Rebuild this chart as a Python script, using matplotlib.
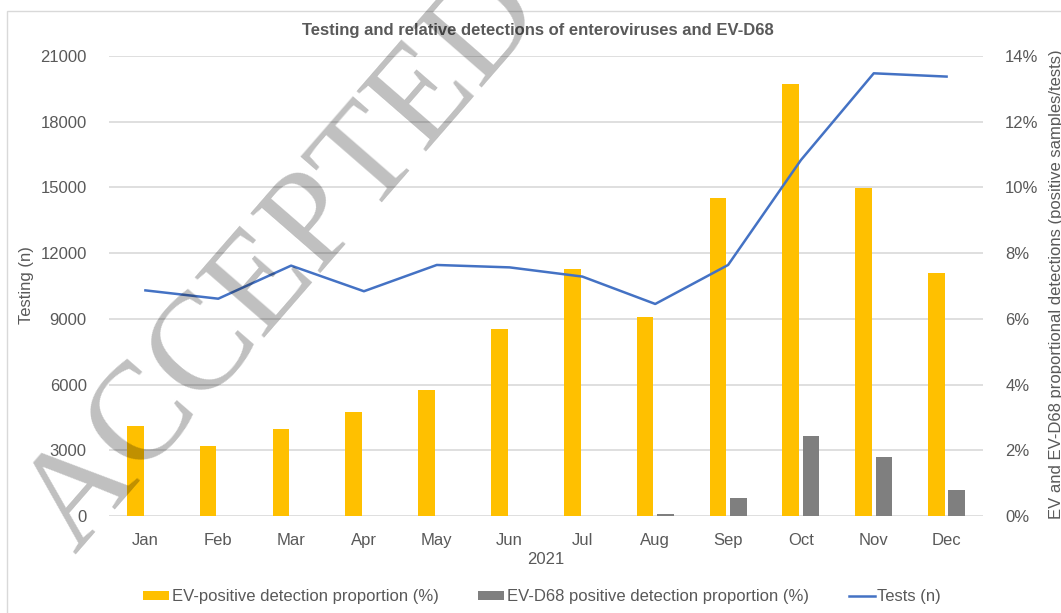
import matplotlib.pyplot as plt
import numpy as np
from matplotlib.patches import Rectangle
from matplotlib.ticker import FuncFormatter

plt.rcParams['font.family'] = ['Liberation Sans', 'DejaVu Sans']

months = ["Jan", "Feb", "Mar", "Apr", "May", "Jun", "Jul", "Aug", "Sep", "Oct", "Nov", "Dec"]
ev_positive = [2.74, 2.14, 2.65, 3.17, 3.83, 5.69, 7.52, 6.07, 9.69, 13.16, 9.97, 7.40]
ev_d68 = [0, 0, 0, 0, 0, 0, 0, 0.05, 0.56, 2.43, 1.80, 0.79]
tests = [10300, 9920, 11430, 10260, 11460, 11350, 10930, 9680, 11460, 16250, 20210, 20060]

txt = "#595959"
grid = "#D9D9D9"

fig = plt.figure(figsize=(10.61, 6.13), dpi=100)
ax = fig.add_axes([109 / 1061, 1 - 516 / 613, 874 / 1061, 460 / 613])
ax2 = ax.twinx()

# bars on the percentage axis (drawn below the line)
x = np.arange(len(months))
w = 0.23
b1 = ax.bar(x - 0.14, ev_positive, w, color="#FFC000", label="EV-positive detection proportion (%)")
b2 = ax.bar(x + 0.14, ev_d68, w, color="#7F7F7F", label="EV-D68 positive detection proportion (%)")
ax.set_ylim(0, 14)
ax.set_xlim(-0.5, 11.5)
ax.set_yticks(range(0, 15, 2))
ax.yaxis.set_major_formatter(FuncFormatter(lambda v, p: f"{v:.0f}%"))
ax.set_axisbelow(True)
ax.grid(axis="y", color=grid, linewidth=1.2)
ax.set_xticks(x)
ax.set_xticklabels(months)
ax.tick_params(length=0, labelsize=12, labelcolor=txt)
ax.tick_params(axis="x", pad=12)
for s in ax.spines.values():
    s.set_visible(False)

# tests line on the count axis
ln, = ax2.plot(x, tests, color="#4472C4", linewidth=1.8, label="Tests (n)")
ax2.set_ylim(0, 21000)
ax2.set_yticks(range(0, 21001, 3000))
for s in ax2.spines.values():
    s.set_visible(False)

# swap sides: percent on the right, counts on the left
ax.yaxis.tick_right()
ax2.yaxis.tick_left()
ax.tick_params(axis="y", length=0, labelsize=12, labelcolor=txt, pad=16)
ax2.tick_params(axis="y", length=0, labelsize=12, labelcolor=txt, pad=16)

fig.text(538 / 1061, 1 - 30 / 613, "Testing and relative detections of enteroviruses and EV-D68",
         ha="center", va="center", fontsize=12, fontweight="bold", color=txt)
fig.text(546 / 1061, 1 - 559 / 613, "2021", ha="center", va="center", fontsize=12, color=txt)
fig.text(27 / 1061, 1 - 285 / 613, "Testing (n)", rotation=90, ha="center", va="center",
         fontsize=12, color=txt)
fig.text(1056 / 1061, 1 - 284 / 613, "EV and EV-D68 proportional detections (positive samples/tests)",
         rotation=90, ha="center", va="center", fontsize=12, color=txt)

fig.legend(handles=[b1, b2, ln], loc="center", bbox_to_anchor=(542 / 1061, 1 - 597 / 613),
           ncol=3, frameon=False, fontsize=12, labelcolor=txt, handlelength=1.55,
           handleheight=0.45, handletextpad=0.15, columnspacing=2.4)

# chart area border
fig.add_artist(Rectangle((7 / 1061, -0.1), 1.2, 1 - 11 / 613 + 0.1, transform=fig.transFigure,
                         fill=False, edgecolor=grid, linewidth=1))

# watermark
fig.text(285 / 1061, 1 - 262 / 613, "ACCEPTED", rotation=49, ha="center", va="center",
         fontsize=100, family="Liberation Serif", color="black", alpha=0.25, zorder=10)

fig.savefig("out.png", dpi=100)
